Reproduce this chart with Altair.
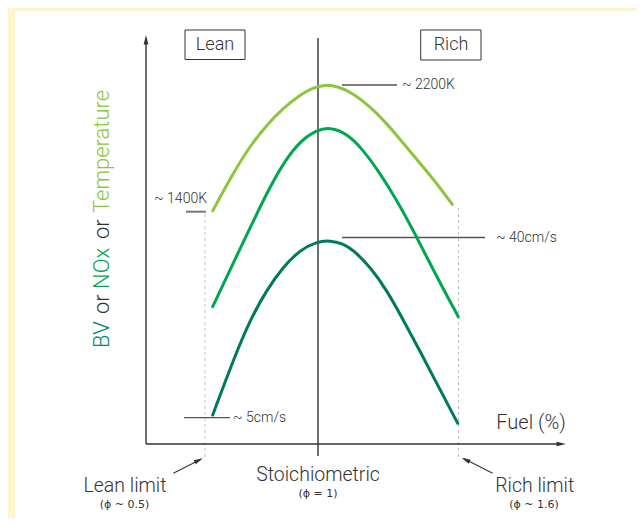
import altair as alt
import pandas as pd

# ---- diagram units: x = distance right of the y-axis, y = height above the x-axis ----
temp_x = [66.7, 87.3, 104, 120.7, 137.3, 154, 166, 179, 192, 207.3, 224, 240.7, 257.3, 274, 290.7, 306.3]
temp_y = [233.3, 271, 298, 319, 336, 349, 356, 359.5, 357.5, 350.7, 337.3, 320.7, 300.7, 280.7, 260.7, 239.7]

nox_x = [66.7, 87.3, 100.7, 120.7, 137.3, 154, 170.7, 184, 200.7, 217.3, 234, 250.7, 266.7, 290.7, 312.3]
nox_y = [137.3, 181, 209, 251, 281, 303, 314, 316.7, 310.7, 294, 270.7, 244, 214.7, 167.3, 127.3]

bv_x = [66.7, 87.3, 104, 120.7, 137.3, 154, 170.7, 184, 197, 207.3, 224, 240.7, 257.3, 274, 290.7, 311.7]
bv_y = [29, 84, 124, 154, 177.3, 194, 202.3, 203.5, 200.5, 194, 177.3, 154, 124, 93, 60.7, 20.7]

series_names = ["Temperature", "NOx", "BV"]
series_colors = ["#8cc63f", "#00a651", "#007a5e"]

# y-axis title pieces (rotated, reading bottom to top)
ylabel_words = ["BV", "or", "NOx", "or", "Temperature"]
ylabel_colors = ["#00896b", "#333333", "#00a651", "#333333", "#8cc63f"]
ylabel_start = [96, 130, 155, 205, 231]

W, H = 628, 510
XD = [-138, -138 + W]
YD = [436 - H, 436]
xs = alt.Scale(domain=XD, nice=False, zero=False)
ys = alt.Scale(domain=YD, nice=False, zero=False)
FONT = "Roboto"
GRAY = "#333333"


def X(f="x"):
    return alt.X(f, type="quantitative", scale=xs, axis=None)


def Y(f="y"):
    return alt.Y(f, type="quantitative", scale=ys, axis=None)


# white panel
panel = alt.Chart(pd.DataFrame({"x": [-131], "x2": [XD[1] + 10], "y": [433], "y2": [YD[0] - 10]})).mark_rect(
    color="white").encode(x=X(), x2="x2", y=Y(), y2="y2")

# curves
rows = []
for name, xv, yv in zip(series_names, [temp_x, nox_x, bv_x], [temp_y, nox_y, bv_y]):
    for i, (a, b) in enumerate(zip(xv, yv)):
        rows.append({"series": name, "x": a, "y": b, "o": i})
curves = alt.Chart(pd.DataFrame(rows)).mark_line(
    strokeWidth=3, interpolate="basis", strokeCap="round").encode(
    x=X(), y=Y(), order="o:Q", detail="series:N",
    color=alt.Color("series:N", scale=alt.Scale(domain=series_names, range=series_colors), legend=None))

# axes and stoichiometric line
axes_df = pd.DataFrame({
    "x": [0, 0, 172],
    "x2": [0, 416, 172],
    "y": [0, 0, -12],
    "y2": [402, 0, 406],
})
axes = alt.Chart(axes_df).mark_rule(color=GRAY, strokeWidth=1.4).encode(x=X(), x2="x2", y=Y(), y2="y2")

ann_df = pd.DataFrame({
    "x": [196, 196, 38],
    "x2": [251, 339, 84],
    "y": [359, 206.5, 26.3],
    "y2": [359, 206.5, 26.3],
})
ann = alt.Chart(ann_df).mark_rule(color="#555555", strokeWidth=1.3).encode(x=X(), x2="x2", y=Y(), y2="y2")

k1400 = alt.Chart(pd.DataFrame({"x": [40], "x2": [60], "y": [232.3], "y2": [232.3]})).mark_rule(
    color="#777777", strokeWidth=2).encode(x=X(), x2="x2", y=Y(), y2="y2")

dash_df = pd.DataFrame({"x": [59, 312.5], "x2": [59, 312.5], "y": [-13, -13], "y2": [232, 237]})
dashes = alt.Chart(dash_df).mark_rule(color="#c4c4c4", strokeWidth=1, strokeDash=[3, 3]).encode(
    x=X(), x2="x2", y=Y(), y2="y2")

arrow_line_df = pd.DataFrame({"x": [27.3, 346.7], "x2": [55, 317.5], "y": [-29.3, -29.3], "y2": [-15.2, -14.6]})
arrow_lines = alt.Chart(arrow_line_df).mark_rule(color=GRAY, strokeWidth=1.1).encode(
    x=X(), x2="x2", y=Y(), y2="y2")

# arrow heads (tip at the point)
HEAD = "M0,0L0.5,2L-0.5,2Z"
heads_df = pd.DataFrame({
    "x": [0, 420, 56.7, 315.7],
    "y": [409, 0, -14.3, -13.7],
    "a": [0, 90, 63, 297],
    "s": [90, 90, 80, 80],
})
heads = alt.Chart(heads_df).mark_point(shape=HEAD, filled=True, color=GRAY, opacity=1).encode(
    x=X(), y=Y(), angle=alt.Angle("a:Q", scale=None), size=alt.Size("s:Q", scale=None))

# Lean / Rich boxes
box_df = pd.DataFrame({"x": [39, 274.7], "x2": [99, 335], "y": [384.5, 384], "y2": [414, 414]})
boxes = alt.Chart(box_df).mark_rect(fill="white", stroke=GRAY, strokeWidth=1).encode(
    x=X(), x2="x2", y=Y(), y2="y2")

# centered texts
ctext_df = pd.DataFrame({
    "t": ["Lean", "Rich", "Lean limit", "Stoichiometric", "Rich limit", "Fuel (%)"],
    "x": [69, 305, -21, 172, 388.7, 385],
    "y": [399.5, 399, -42, -31, -42, 21],
    "s": [18, 18, 19.5, 19.5, 19.5, 20],
})
ctext = alt.Chart(ctext_df).mark_text(font=FONT, fontWeight=300, color=GRAY, align="center",
                                      baseline="middle").encode(
    x=X(), y=Y(), text="t:N", size=alt.Size("s:Q", scale=None))

phi_df = pd.DataFrame({
    "t": ["(ϕ ~ 0.5)", "(ϕ = 1)", "(ϕ ~ 1.6)"],
    "x": [-21.5, 172, 388],
    "y": [-61, -50, -61],
})
phitext = alt.Chart(phi_df).mark_text(font="DejaVu Sans", color=GRAY, align="center",
                                      baseline="middle", fontSize=11).encode(x=X(), y=Y(), text="t:N")

ltext_df = pd.DataFrame({"t": ["~ 2200K", "~ 40cm/s", "~ 5cm/s"], "x": [256, 350, 87], "y": [359, 206.5, 25.7]})
ltext = alt.Chart(ltext_df).mark_text(font=FONT, fontWeight=300, color=GRAY, align="left",
                                      baseline="middle", fontSize=14).encode(x=X(), y=Y(), text="t:N")

rtext_df = pd.DataFrame({"t": ["~ 1400K"], "x": [61], "y": [245.5]})
rtext = alt.Chart(rtext_df).mark_text(font=FONT, fontWeight=300, color=GRAY, align="right",
                                      baseline="middle", fontSize=14).encode(x=X(), y=Y(), text="t:N")

ylab_df = pd.DataFrame({"t": ylabel_words, "c": ylabel_colors, "y": ylabel_start, "x": [-44] * 5})
ylab = alt.Chart(ylab_df).mark_text(font=FONT, fontWeight=300, align="left", baseline="middle",
                                    angle=270, fontSize=22).encode(
    x=X(), y=Y(), text="t:N", color=alt.Color("c:N", scale=None))

chart = alt.layer(panel, dashes, axes, ann, k1400, arrow_lines, heads, boxes, curves,
                  ctext, phitext, ltext, rtext, ylab).properties(
    width=W, height=H, background="#fff4cc", padding=0,
    autosize=alt.AutoSizeParams(type="none"),
).configure_view(stroke=None)

chart.save("out.html", embed_options={"renderer": "svg", "actions": False})
